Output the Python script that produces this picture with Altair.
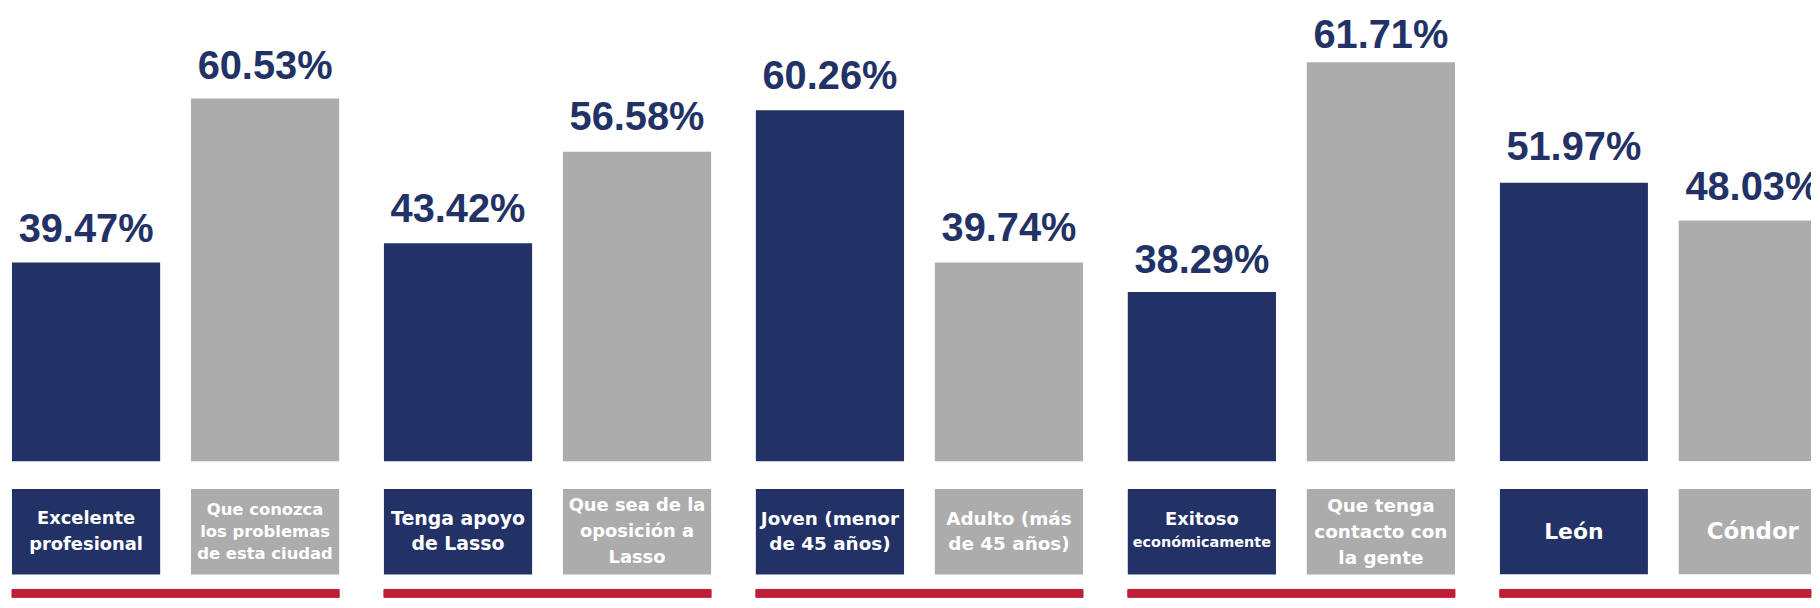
import altair as alt
import pandas as pd

# ---------------- data ----------------
group_ids = [0, 0, 1, 1, 2, 2, 3, 3, 4, 4]
categories = [
    "Excelente profesional",
    "Que conozca los problemas de esta ciudad",
    "Tenga apoyo de Lasso",
    "Que sea de la oposición a Lasso",
    "Joven (menor de 45 años)",
    "Adulto (más de 45 años)",
    "Exitoso económicamente",
    "Que tenga contacto con la gente",
    "León",
    "Cóndor",
]
values = [39.47, 60.53, 43.42, 56.58, 60.26, 39.74, 38.29, 61.71, 51.97, 48.03]
label_lines = [
    ["Excelente", "profesional"],
    ["Que conozca", "los problemas", "de esta ciudad"],
    ["Tenga apoyo", "de Lasso"],
    ["Que sea de la", "oposición a", "Lasso"],
    ["Joven (menor", "de 45 años)"],
    ["Adulto (más", "de 45 años)"],
    ["Exitoso", "económicamente"],
    ["Que tenga", "contacto con", "la gente"],
    ["León"],
    ["Cóndor"],
]
# each pair is its own small chart with its own value axis
group_axis_min = [13.98, 12.09, 12.99, 21.05, 22.94]
group_axis_max = [71.93, 77.03, 73.80, 67.08, 70.01]

# ---------------- styles ----------------
label_font_sizes = [
    [18, 18], [16.5, 16.5, 16.5], [19, 19], [18, 18, 18], [18.5, 18.5],
    [18.5, 18.5], [18, 14.5], [18.5, 18.5, 18.5], [22], [23],
]
label_line_heights = [26, 22, 25, 26, 25, 25, 23, 26, 0, 0]
# gap (px) between a bar's top and its value label's baseline
value_label_gap = [21, 20, 21, 22, 21, 22, 19, 14, 23, 21]
pair_colors = ["#233266", "#ABACAB"]
NAVY = "#233266"
RED = "#BE1E37"

BAR_H = 454
BOX_H = 86
RED_H = 8
PANEL_W = 329
# visible width of each panel (the last one is cut by the page edge)
visible_w = [329, 329, 329, 329, 313]
INNER_PAD = 0.1722


def panel(g):
    idx = [i for i in range(len(categories)) if group_ids[i] == g]
    cats = [categories[i] for i in idx]
    vw = visible_w[g]
    cut = vw < PANEL_W
    df = pd.DataFrame({
        "cat": cats,
        "value": [values[i] for i in idx],
        "fill": pair_colors[: len(idx)],
    })
    xenc = alt.X("cat:N", sort=cats,
                 scale=alt.Scale(paddingInner=INNER_PAD, paddingOuter=0,
                                 range=[0, PANEL_W]),
                 axis=None)
    yenc = alt.Y("value:Q",
                 scale=alt.Scale(domain=[group_axis_min[g], group_axis_max[g]],
                                 clamp=True, zero=False, nice=False),
                 axis=None)

    layers = [
        alt.Chart(df).mark_bar(clip=cut).encode(
            x=xenc, y=yenc, color=alt.Color("fill:N", scale=None)
        )
    ]
    for i in idx:
        layers.append(
            alt.Chart(df).transform_filter(
                alt.datum.cat == categories[i]
            ).transform_calculate(
                lab="format(datum.value, '.2f') + '%'"
            ).mark_text(
                font="Liberation Sans", fontWeight="bold", fontSize=40,
                color=NAVY, baseline="alphabetic", align="center",
                dy=-value_label_gap[i], clip=cut
            ).encode(x=xenc, y=yenc, text="lab:N")
        )
    top = alt.layer(*layers).properties(width=vw, height=BAR_H)

    # label boxes
    rows = []
    for i in idx:
        lines = label_lines[i]
        n = len(lines)
        lh = label_line_heights[i]
        for k, t in enumerate(lines):
            rows.append({
                "cat": categories[i],
                "txt": t,
                "fs": label_font_sizes[i][k],
                "ypx": BOX_H / 2 + (k - (n - 1) / 2) * lh,
            })
    ldf = pd.DataFrame(rows)
    boxes = alt.Chart(df).mark_rect(clip=cut).encode(
        x=xenc, color=alt.Color("fill:N", scale=None)
    )
    texts = alt.Chart(ldf).mark_text(
        font="DejaVu Sans", fontWeight="bold", color="white",
        baseline="middle", align="center"
    ).encode(
        x=xenc,
        y=alt.Y("ypx:Q", scale=None, axis=None),
        size=alt.Size("fs:Q", scale=None, legend=None),
        text="txt:N",
    )
    mid = alt.layer(boxes, texts).properties(width=vw, height=BOX_H)

    red = alt.Chart(df).mark_rect(color=RED, stroke=RED, strokeWidth=1).encode(
        x=alt.X("cat:N", sort=cats,
                scale=alt.Scale(paddingInner=0, paddingOuter=0), axis=None)
    ).properties(width=vw, height=RED_H)

    return alt.vconcat(alt.vconcat(top, mid, spacing=28), red, spacing=14)


chart = alt.hconcat(*[panel(g) for g in range(5)], spacing=43).properties(
    padding={"left": 3, "top": 0, "right": 0, "bottom": 0},
    background="white",
).configure_view(strokeWidth=0)

chart.save("out.html", embed_options={"renderer": "svg", "actions": False})
